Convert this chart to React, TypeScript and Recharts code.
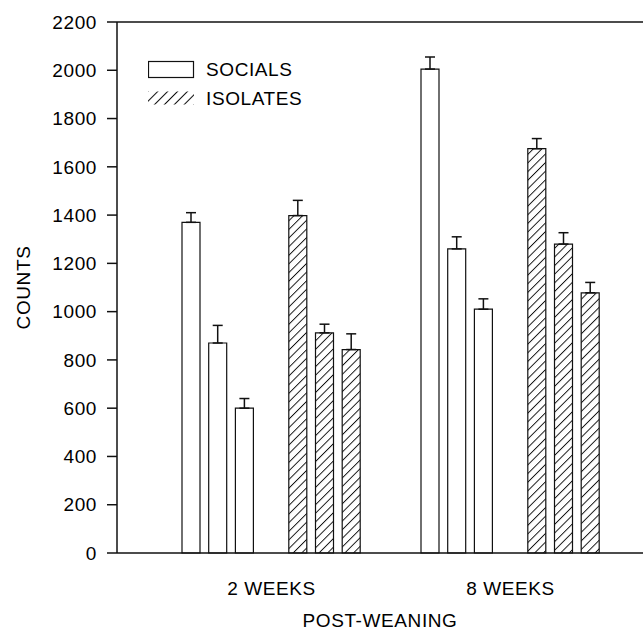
import React from "react";
import { BarChart, Bar, XAxis, YAxis, ErrorBar, ReferenceLine, Legend } from "recharts";

const periods = ["2 WEEKS", "8 WEEKS"];
const socials = [
  [1370, 870, 600],
  [2005, 1260, 1010],
];
const socialsErr = [
  [40, 73, 40],
  [50, 50, 43],
];
const isolates = [
  [1398, 912, 843],
  [1675, 1280, 1078],
];
const isolatesErr = [
  [63, 36, 65],
  [42, 47, 43],
];
const yTicks = [0, 200, 400, 600, 800, 1000, 1200, 1400, 1600, 1800, 2000, 2200];

const data = periods.map((period, i) => ({
  period,
  s1: socials[i][0],
  s2: socials[i][1],
  s3: socials[i][2],
  i1: isolates[i][0],
  i2: isolates[i][1],
  i3: isolates[i][2],
  s1e: [0, socialsErr[i][0]],
  s2e: [0, socialsErr[i][1]],
  s3e: [0, socialsErr[i][2]],
  i1e: [0, isolatesErr[i][0]],
  i2e: [0, isolatesErr[i][1]],
  i3e: [0, isolatesErr[i][2]],
}));

const FONT = "'Liberation Sans', Arial, Helvetica, sans-serif";
const INK = "#111";
const textStyle = { fill: "#000", fontSize: 19, fontFamily: FONT, letterSpacing: 0.6 };

const LegendContent = () => (
  <svg width={220} height={75} style={{ display: "block" }}>
    <defs>
      <pattern id="hatchLegend" patternUnits="userSpaceOnUse" width={7} height={7} patternTransform="rotate(45)">
        <line x1={0} y1={0} x2={0} y2={7} stroke={INK} strokeWidth={2} />
      </pattern>
    </defs>
    <rect x={0.5} y={10.5} width={45} height={16} fill="#fff" stroke={INK} strokeWidth={1.2} />
    <text x={58} y={25.3} {...textStyle}>SOCIALS</text>
    <rect x={0} y={40.5} width={46} height={13} fill="url(#hatchLegend)" />
    <text x={58} y={54.3} {...textStyle}>ISOLATES</text>
  </svg>
);

const socialKeys = ["s1", "s2", "s3"];
const isolateKeys = ["i1", "i2", "i3"];

export default function App() {
  return (
    <div
      style={{
        position: "absolute",
        left: 0,
        top: 0,
        width: 643,
        height: 629,
        overflow: "hidden",
        background: "#fff",
      }}
    >
      <BarChart
        width={660}
        height={629}
        data={data}
        margin={{ top: 22, right: 5, bottom: 0, left: 0 }}
        barSize={18}
        barGap={8.7}
      >
        <defs>
          <pattern id="hatch" patternUnits="userSpaceOnUse" width={6.1} height={6.1} patternTransform="rotate(45)">
            <rect x={0} y={0} width={6.1} height={6.1} fill="#fff" />
            <line x1={0} y1={0} x2={0} y2={6.1} stroke={INK} strokeWidth={1.9} />
          </pattern>
        </defs>
        <XAxis
          dataKey="period"
          interval={0}
          padding={{ left: 35, right: 25 }}
          tickLine={false}
          tickSize={6}
          tickMargin={23}
          height={76}
          axisLine={{ stroke: INK, strokeWidth: 1.5 }}
          tick={textStyle}
          label={{
            content: () => (
              <text x={380} y={626.5} textAnchor="middle" {...textStyle}>
                POST-WEANING
              </text>
            ),
          }}
        />
        <YAxis
          width={117}
          domain={[0, 2200]}
          ticks={yTicks}
          interval={0}
          tickSize={10}
          tickMargin={10}
          axisLine={{ stroke: INK, strokeWidth: 1.5 }}
          tickLine={{ stroke: INK, strokeWidth: 1.5 }}
          tick={textStyle}
          label={{
            content: (props: any) => {
              const vb = props.viewBox || { y: 22, height: 531 };
              const cy = vb.y + vb.height / 2;
              return (
                <text
                  x={30}
                  y={cy}
                  transform={`rotate(-90 30 ${cy})`}
                  textAnchor="middle"
                  {...textStyle}
                >
                  COUNTS
                </text>
              );
            },
          }}
        />
        <ReferenceLine y={2200} stroke={INK} strokeWidth={1.5} ifOverflow="extendDomain" />
        <Legend
          layout="vertical"
          align="center"
          verticalAlign="middle"
          content={<LegendContent />}
          wrapperStyle={{ position: "absolute", left: 148, top: 51, width: 220, height: 75 }}
        />
        {socialKeys.map((k) => (
          <Bar key={k} dataKey={k} fill="#fff" stroke={INK} strokeWidth={1.2} isAnimationActive={false} legendType="none">
            <ErrorBar dataKey={`${k}e`} width={5} stroke={INK} strokeWidth={1.5} direction="y" />
          </Bar>
        ))}
        <Bar dataKey="gap" fill="none" stroke="none" isAnimationActive={false} legendType="none" />
        {isolateKeys.map((k) => (
          <Bar key={k} dataKey={k} fill="url(#hatch)" stroke={INK} strokeWidth={1.2} isAnimationActive={false} legendType="none">
            <ErrorBar dataKey={`${k}e`} width={5} stroke={INK} strokeWidth={1.5} direction="y" />
          </Bar>
        ))}
      </BarChart>
    </div>
  );
}
